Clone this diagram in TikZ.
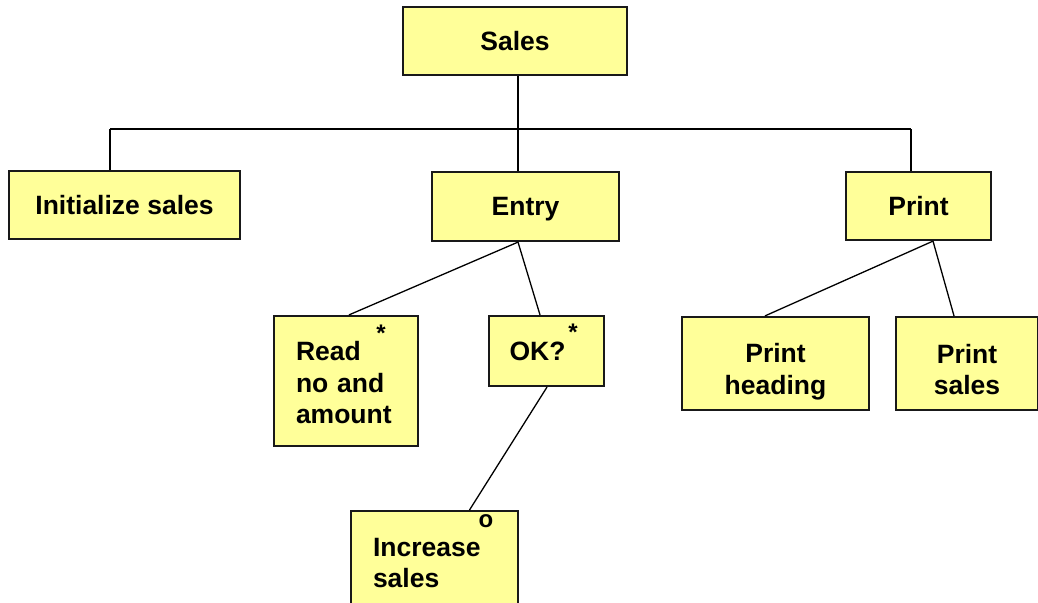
\documentclass[tikz,border=0pt]{standalone}
\usepackage{fontspec}
\setmainfont{Liberation Sans}
\begin{document}
\begin{tikzpicture}[x=1pt,y=-1pt,
  box/.style={draw=black!90, line width=2.2pt, fill=boxfill, inner sep=0pt,
    font=\fontsize{26.5}{31.5}\selectfont\bfseries, align=center},
  onebox/.style={box, text depth=0pt},
  lbox/.style={box, align=left, inner xsep=22pt},
  markertext/.style={inner sep=0pt, font=\fontsize{24}{28}\selectfont\bfseries},
  conn/.style={line width=1.3pt, draw=black}]
\definecolor{boxfill}{RGB}{255,255,153}
\useasboundingbox (0,0) rectangle (1038,602);
\clip (0,0) rectangle (1038,602);
\fill[white] (0,0) rectangle (1038,602);

\node[onebox, minimum width=224pt, minimum height=68pt] (sales) at (515,41) {Sales};
\node[onebox, minimum width=231pt, minimum height=68pt] (init) at (124.5,205) {Initialize sales};
\node[onebox, minimum width=187pt, minimum height=69pt] (entry) at (525.5,206.5) {Entry};
\node[onebox, minimum width=145pt, minimum height=68pt] (print) at (918.5,206) {Print};
\node[lbox, text width=100pt, minimum height=130pt] (read) at (346,381) {\rule{0pt}{23pt}Read\\no and\\amount};
\node[onebox, minimum width=115pt, minimum height=70pt] (ok) at (546.5,351) {\hspace*{-18pt}OK?};
\node[box, minimum width=187pt, minimum height=93pt] (phead) at (775.5,363.5) {\rule{0pt}{36pt}Print\\heading};
\node[box, minimum width=142pt, minimum height=93pt] (psales) at (967,363.5) {\rule{0pt}{31pt}Print\\sales};
\node[lbox, text width=123pt, minimum height=104pt, anchor=north] (incr) at (434.5,510) {Increase\\sales};

\node[markertext] (m1) at (381,333) {*};
\node[markertext] (m2) at (573,332) {*};
\node[markertext] (m3) at (486,521) {o};

\coordinate (hl) at (110,129);
\coordinate (hr) at (911,129);
\draw[conn] (hl) -- (hr);
\draw[conn] (init.north -| hl) -- (hl);
\draw[conn] (print.north -| hr) -- (hr);
\draw[conn] ([xshift=3pt]sales.south) -- ([xshift=-7.5pt]entry.north);
\draw[conn] ([xshift=-7.5pt]entry.south) -- ([xshift=3pt]read.north);
\draw[conn] ([xshift=-7.5pt]entry.south) -- ([xshift=-6.5pt]ok.north);
\draw[conn] ([xshift=0.5pt]ok.south) -- ([xshift=35pt]incr.north);
\draw[conn] ([xshift=14.5pt]print.south) -- ([xshift=-10.5pt]phead.north);
\draw[conn] ([xshift=14.5pt]print.south) -- ([xshift=-13pt]psales.north);
\end{tikzpicture}
\end{document}
